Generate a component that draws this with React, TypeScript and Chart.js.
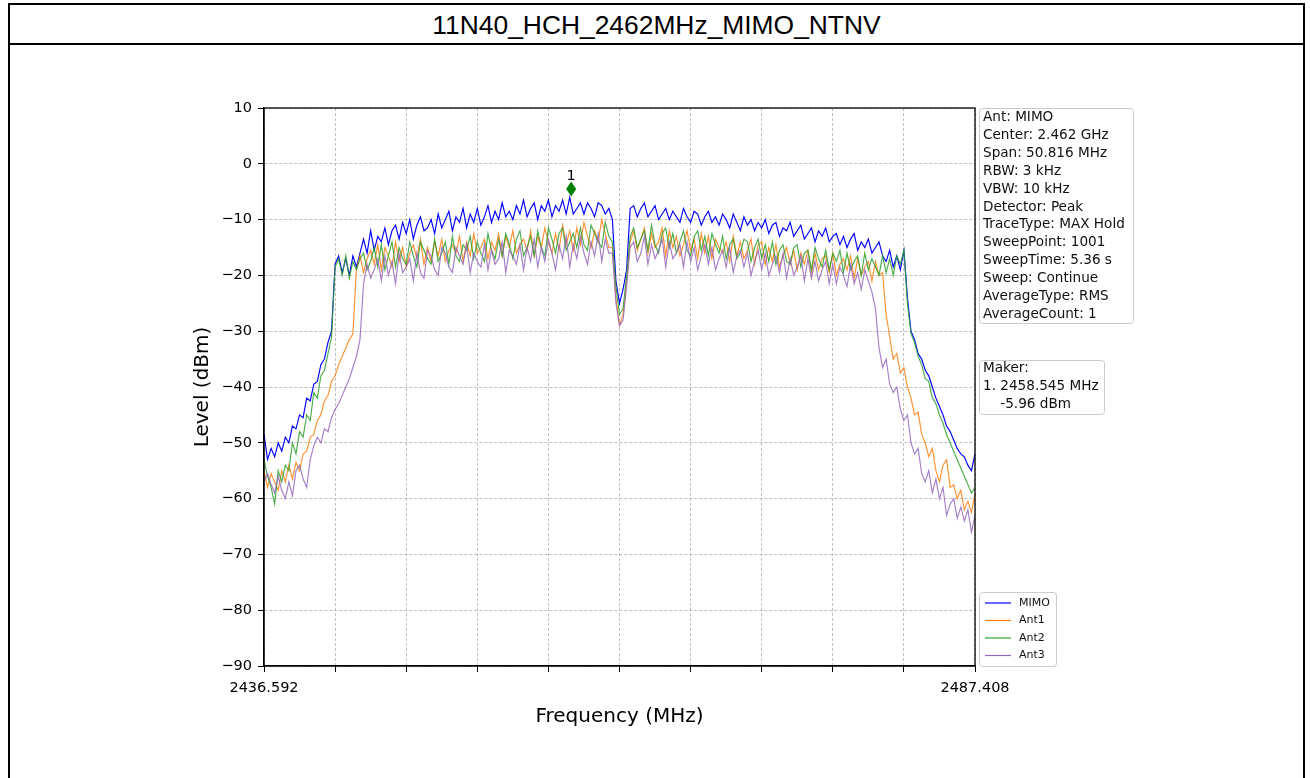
import React, { useEffect, useRef } from 'react';
import { Chart, registerables } from 'chart.js';

Chart.register(...registerables);

const TITLE = '11N40_HCH_2462MHz_MIMO_NTNV';
const START_MHZ = 2436.592;
const STOP_MHZ = 2487.408;
const X_TICK_COUNT = 11;
const X_EDGE_LABELS = ['2436.592', '2487.408'];
const Y_TICKS = [-90, -80, -70, -60, -50, -40, -30, -20, -10, 0, 10];
const X_TITLE = 'Frequency (MHz)';
const Y_TITLE = 'Level (dBm)';

const SERIES_NAMES = ['MIMO', 'Ant1', 'Ant2', 'Ant3'];

const MIMO = [
  -48.5, -53, -51, -52.5, -50, -51.5, -49, -50, -47, -47.5,
  -45, -45.5, -42, -42.5, -39.5, -39, -36, -35, -32, -30,
  -18, -16.5, -19.5, -17, -20, -16.5, -18.5, -16,
  -13.5, -16, -12, -15.5, -13, -14, -11.5, -14.5, -12, -11, -13.5, -10.5,
  -12.5, -10, -13.5, -11, -9.5, -12, -11.5, -10, -12.5, -9,
  -11.5, -10, -8.5, -12, -9.5, -10.5, -8, -11.5, -9, -10.5,
  -8, -11, -9.5, -7.5, -10.5, -8.5, -10, -7, -9.5, -8.5,
  -10, -7.5, -9, -6.5, -9.5, -8, -7, -10, -7.5, -8.5,
  -6.5, -9.5, -7.5, -8.5, -6.5, -9, -6, -9, -8, -7,
  -9, -7, -8, -9.5, -7, -7.5, -9, -8,
  -10, -21, -25, -22.5, -19, -8,
  -7.5, -9.5, -8, -7, -9.5, -8.5,
  -7.5, -10, -9, -8, -10, -8.5, -9.5, -10.5, -8, -9.5,
  -10.5, -8.5, -9, -11, -9.5, -8.5, -10.5, -9.5, -11, -9,
  -10, -11.5, -9, -10.5, -12, -9.5, -11, -10, -12, -10.5,
  -11.5, -10, -12.5, -11, -10.5, -13, -11.5, -12, -10.5, -13,
  -12, -11, -13.5, -12.5, -11.5, -14, -12, -13, -11.5, -14,
  -13, -12.5, -14.5, -13, -15, -13.5, -12.5, -15.5, -14, -15,
  -13.5, -16, -15, -14, -16.5, -17.5, -15.5, -18.5, -16.5, -19,
  -15.5,
  -24, -30, -31.5, -34, -35, -37, -38, -40, -42,
  -43.5, -45, -47, -48, -49.5, -51, -52, -52.5, -54, -55,
  -52,
];

const ANT1 = [
  -55, -58, -55.5, -57, -58.5, -55, -57, -54, -56.5, -53.5,
  -55, -52, -51.5, -49, -48.5, -46, -45, -42.5, -41.5, -39,
  -38, -36, -34.5, -33, -31.5, -30.5,
  -19, -16.5, -19.5, -17, -15.5, -18, -14.5, -19, -15, -16.5,
  -18.5, -14, -17.5, -15, -18.5, -16, -14.5, -17, -13.5, -18,
  -15, -17.5, -14, -16.5, -13.5, -17.5, -15.5, -14.5, -16, -13,
  -17.5, -14, -16.5, -12.5, -16, -15, -13.5, -17, -14, -15.5,
  -12.5, -16.5, -13, -15, -12, -16, -14.5, -13.5, -15.5, -12,
  -16.5, -13, -15, -11.5, -14, -16, -12.5, -15.5, -11, -14.5,
  -12, -15.5, -11.5, -14.5, -10.5, -13, -15, -12, -14, -10, -12.5, -15,
  -15, -24, -29, -27, -21, -14,
  -12, -15.5, -13.5, -11.5, -16, -12.5, -15, -14, -11.5, -16.5,
  -12, -15, -13, -16.5, -14.5, -12, -15.5, -13.5, -17, -12.5,
  -16, -13, -17, -13.5, -15, -16, -14, -17.5, -13, -16.5,
  -14, -17, -15.5, -13.5, -18, -14.5, -14, -18, -15, -17.5,
  -14.5, -18.5, -16.5, -15, -18, -15.5, -19, -16, -18, -15.5,
  -19.5, -16, -19, -17, -16.5, -19.5, -16, -20, -18, -17,
  -19, -16.5, -20.5, -17, -20, -18.5, -17.5, -21, -17.5, -20,
  -19.5, -27, -31, -35, -34, -37.5, -36.5, -40, -42, -45,
  -44.5, -48.5, -50, -52.5, -51, -55, -57, -54, -53, -58,
  -57.5, -60, -58.5, -62, -60.5, -62.5, -59,
];

const ANT2 = [
  -53, -56, -58, -61, -55, -57, -54, -55, -50, -52,
  -48, -49, -45, -46, -41, -42, -38, -37, -34, -31,
  -18.5, -17, -20, -16.5, -20.5, -17.5, -19, -17,
  -16, -19, -17.5, -15, -18.5, -14.5, -19, -16.5, -14, -18.5,
  -15, -17, -18, -14, -16.5, -18.5, -14, -15.5, -17, -18,
  -13.5, -17.5, -16, -14, -18, -13, -16.5, -17.5, -14.5, -15.5,
  -13, -17, -14, -16, -17.5, -12.5, -15.5, -17, -13.5, -16.5,
  -12.5, -14.5, -17, -13.5, -12, -16.5, -15, -13, -16.5, -12,
  -15, -16.5, -11.5, -13.5, -16, -12.5, -11.5, -15.5, -14, -12.5,
  -15, -11.5, -14.5, -15.5, -11, -12.5, -14, -15, -10.5, -13,
  -14, -22, -27, -26, -20, -13,
  -11.5, -15, -13.5, -12, -15.5, -11, -14.5, -16, -12.5, -11.5,
  -15, -12.5, -16, -14, -12, -15.5, -16.5, -13, -12, -15.5,
  -13, -16.5, -12.5, -14.5, -16, -13, -17, -14.5, -13.5, -17,
  -16, -13.5, -14, -17.5, -15, -13.5, -17, -14.5, -17.5, -14,
  -18, -15.5, -14.5, -17.5, -18, -15, -14.5, -18.5, -16, -15.5,
  -19, -15, -17, -18.5, -15.5, -19, -16, -17.5, -15.5, -19.5,
  -16, -19, -17.5, -16.5, -20, -16, -19, -17, -18.5, -20,
  -16.5, -19.5, -17, -20, -16.5, -18, -15.5,
  -25, -30.5, -32, -34.5, -36, -38.5, -39, -42, -43, -45,
  -46.5, -48.5, -50, -51.5, -53, -54.5, -56, -57.5, -59, -58,
];

const ANT3 = [
  -57, -55.5, -57.5, -59, -56, -58.5, -60, -57, -59.5, -55,
  -54, -56.5, -58, -53, -50.5, -49, -50, -47.5, -48, -45.5,
  -44, -43, -41.5, -40, -38.5, -36.5, -34.5, -31.5,
  -21.5, -18, -20.5, -19, -17, -21, -16.5, -20, -17.5, -21.5,
  -16, -19.5, -18.5, -17, -21, -16, -19.5, -20.5, -15.5, -16.5,
  -19, -20, -15, -16, -18.5, -19.5, -15, -16.5, -18, -14.5,
  -19.5, -16, -17.5, -18.5, -14.5, -19, -15.5, -18, -17, -14,
  -19.5, -15.5, -16.5, -18, -14.5, -19, -15, -17.5, -13.5, -18.5,
  -15, -17.5, -13.5, -16, -19, -14.5, -17, -13, -18.5, -14.5,
  -17, -13, -16, -18, -14, -16.5, -12.5, -17.5, -13.5, -16,
  -16, -25, -29, -28, -22, -15,
  -14, -17.5, -16, -13, -18, -14.5, -17, -15.5, -13.5, -18.5,
  -14, -17, -16, -14.5, -18.5, -14, -17.5, -15, -19, -16.5,
  -14.5, -18, -15, -19, -17, -15.5, -18.5, -15, -19.5, -16.5,
  -15.5, -18.5, -16, -20, -17.5, -15.5, -19, -16, -20, -18,
  -16.5, -19.5, -16, -20.5, -17, -20, -18.5, -16.5, -21, -17,
  -20.5, -17.5, -21, -19, -17.5, -21.5, -18, -21.5, -18.5, -20,
  -22, -18, -21.5, -19.5, -22.5, -19, -21, -23,
  -26, -33, -36.5, -35, -39.5, -41, -40, -44, -46, -45,
  -50, -52, -51, -55.5, -57, -55, -59, -56.5, -60, -58,
  -63, -61, -60, -63.5, -61.5, -64, -62, -66, -63,
];

const SERIES_VALUES = [MIMO, ANT1, ANT2, ANT3];
const SERIES_COLORS = ['rgba(0,0,255,1)', 'rgba(255,127,14,0.85)', 'rgba(44,160,44,0.85)', 'rgba(148,103,189,0.85)'];
const LEGEND_COLORS = ['#0000ff', '#ff7f0e', '#2ca02c', '#9467bd'];

const INFO_LINES = [
  'Ant: MIMO',
  'Center: 2.462 GHz',
  'Span: 50.816 MHz',
  'RBW: 3 kHz',
  'VBW: 10 kHz',
  'Detector: Peak',
  'TraceType: MAX Hold',
  'SweepPoint: 1001',
  'SweepTime: 5.36 s',
  'Sweep: Continue',
  'AverageType: RMS',
  'AverageCount: 1',
];
const MARKER_LINES = ['Maker:', '1. 2458.545 MHz', '    -5.96 dBm'];
const MARKER_FREQ = 2458.545;
const MARKER_LEVEL = -5.96;
const MARKER_LABEL = '1';

const FONT = '"DejaVu Sans", sans-serif';

function roundRect(ctx: CanvasRenderingContext2D, x: number, y: number, w: number, h: number, r: number) {
  ctx.beginPath();
  ctx.moveTo(x + r, y);
  ctx.lineTo(x + w - r, y);
  ctx.quadraticCurveTo(x + w, y, x + w, y + r);
  ctx.lineTo(x + w, y + h - r);
  ctx.quadraticCurveTo(x + w, y + h, x + w - r, y + h);
  ctx.lineTo(x + r, y + h);
  ctx.quadraticCurveTo(x, y + h, x, y + h - r);
  ctx.lineTo(x, y + r);
  ctx.quadraticCurveTo(x, y, x + r, y);
  ctx.closePath();
}

const overlayPlugin = {
  id: 'overlay',
  afterDraw(chart: any) {
    const ctx: CanvasRenderingContext2D = chart.ctx;
    const { left, right, top, bottom } = chart.chartArea;
    const xs = chart.scales.x;
    const ys = chart.scales.y;
    ctx.save();
    ctx.strokeStyle = '#000';
    ctx.lineWidth = 1.3;
    ctx.strokeRect(left, top, right - left, bottom - top);

    const mx = xs.getPixelForValue(MARKER_FREQ);
    const my = ys.getPixelForValue(MARKER_LEVEL) - 8;
    ctx.fillStyle = '#008000';
    ctx.beginPath();
    ctx.moveTo(mx, my - 7.5);
    ctx.lineTo(mx + 5, my);
    ctx.lineTo(mx, my + 7.5);
    ctx.lineTo(mx - 5, my);
    ctx.closePath();
    ctx.fill();
    ctx.fillStyle = '#000';
    ctx.font = `14.5px ${FONT}`;
    ctx.textAlign = 'center';
    ctx.textBaseline = 'alphabetic';
    ctx.fillText(MARKER_LABEL, mx, my - 9);

    const bx = right + 4;
    ctx.font = `13.6px ${FONT}`;
    ctx.textAlign = 'left';
    ctx.textBaseline = 'middle';
    const drawBox = (x: number, y: number, w: number, h: number) => {
      roundRect(ctx, x + 0.5, y + 0.5, w, h, 3);
      ctx.fillStyle = 'rgba(255,255,255,0.8)';
      ctx.fill();
      ctx.strokeStyle = '#cccccc';
      ctx.lineWidth = 1;
      ctx.stroke();
    };
    drawBox(bx, top, 154, 215);
    ctx.fillStyle = '#111';
    INFO_LINES.forEach((t, i) => ctx.fillText(t, bx + 4, top + 9.5 + i * 17.9));

    const my0 = top + 252;
    drawBox(bx, my0, 125, 54);
    ctx.fillStyle = '#111';
    MARKER_LINES.forEach((t, i) => ctx.fillText(t, bx + 4, my0 + 8 + i * 18));

    const ly = bottom - 74;
    drawBox(bx, ly, 77, 74);
    ctx.font = `11px ${FONT}`;
    SERIES_NAMES.forEach((name, i) => {
      const yy = ly + 11 + i * 17.5;
      ctx.strokeStyle = LEGEND_COLORS[i];
      ctx.lineWidth = 1.2;
      ctx.beginPath();
      ctx.moveTo(bx + 6, yy);
      ctx.lineTo(bx + 32, yy);
      ctx.stroke();
      ctx.fillStyle = '#111';
      ctx.fillText(name, bx + 40, yy);
    });
    ctx.restore();
  },
};

export default function App() {
  const ref = useRef<HTMLCanvasElement | null>(null);
  useEffect(() => {
    document.body.style.overflow = 'hidden';
    const canvas = ref.current;
    if (!canvas) return;
    const n = MIMO.length;
    const freqs = Array.from({ length: n }, (_, i) => START_MHZ + (i * (STOP_MHZ - START_MHZ)) / (n - 1));
    const xTicks = Array.from({ length: X_TICK_COUNT }, (_, k) => START_MHZ + (k * (STOP_MHZ - START_MHZ)) / (X_TICK_COUNT - 1));
    const orders = [4, 3, 2, 1];
    const chart = new Chart(canvas, {
      type: 'line',
      data: {
        datasets: SERIES_VALUES.map((vals, si) => ({
          label: SERIES_NAMES[si],
          data: vals.map((v, i) => ({ x: freqs[i], y: v })),
          borderColor: SERIES_COLORS[si],
          borderWidth: 1.15,
          pointRadius: 0,
          tension: 0,
          fill: false,
          order: orders[si],
        })),
      },
      options: {
        animation: false,
        responsive: false,
        events: [],
        layout: { padding: { left: 184, right: 335, top: 108, bottom: 42 } },
        plugins: { legend: { display: false }, tooltip: { enabled: false }, title: { display: false } },
        scales: {
          x: {
            type: 'linear',
            min: START_MHZ,
            max: STOP_MHZ,
            afterBuildTicks: (scale: any) => {
              scale.ticks = xTicks.map((v) => ({ value: v }));
            },
            afterFit: (scale: any) => {
              scale.height = 70;
            },
            ticks: {
              autoSkip: false,
              maxRotation: 0,
              padding: 8,
              color: '#000',
              font: { family: FONT, size: 14.5 },
              callback: (_v: any, idx: number) =>
                idx === 0 ? X_EDGE_LABELS[0] : idx === X_TICK_COUNT - 1 ? X_EDGE_LABELS[1] : '',
            },
            grid: {
              color: '#b0b0b0',
              lineWidth: 0.8,
              drawTicks: true,
              tickLength: 6,
              tickColor: '#000',
              tickWidth: 1,
              tickBorderDash: [],
            },
            border: { display: true, color: '#000', width: 1.3, dash: [3, 2] },
            title: { display: true, text: X_TITLE, color: '#000', font: { family: FONT, size: 20 }, padding: { top: 0, bottom: 7 } },
          },
          y: {
            type: 'linear',
            min: -90,
            max: 10,
            afterBuildTicks: (scale: any) => {
              scale.ticks = Y_TICKS.map((v) => ({ value: v }));
            },
            afterFit: (scale: any) => {
              scale.width = 80;
            },
            ticks: {
              padding: 6,
              color: '#000',
              font: { family: FONT, size: 14.5 },
              callback: (v: any) => (Number(v) < 0 ? '\u2212' + Math.abs(Number(v)) : String(v)),
            },
            grid: {
              color: '#b0b0b0',
              lineWidth: 0.8,
              drawTicks: true,
              tickLength: 6,
              tickColor: '#000',
              tickWidth: 1,
              tickBorderDash: [],
            },
            border: { display: true, color: '#000', width: 1.3, dash: [3, 2] },
            title: { display: true, text: Y_TITLE, color: '#000', font: { family: FONT, size: 20 }, padding: { top: 7, bottom: 0 } },
          },
        },
      },
      plugins: [overlayPlugin],
    } as any);
    return () => chart.destroy();
  }, []);

  return (
    <>
      <div
        style={{
          position: 'absolute',
          left: 8,
          top: 3,
          width: 1297,
          height: 900,
          border: '2px solid #000',
          boxSizing: 'border-box',
          background: '#fff',
        }}
      >
        <div
          style={{
            height: 40,
            borderBottom: '2px solid #000',
            boxSizing: 'border-box',
            textAlign: 'center',
            fontFamily: '"Liberation Sans", Arial, sans-serif',
            fontSize: 26.4,
            lineHeight: '40px',
            color: '#000',
          }}
        >
          {TITLE}
        </div>
      </div>
      <canvas
        ref={ref}
        width={1310}
        height={778}
        style={{ position: 'fixed', left: 0, top: 0, width: 1310, height: 778, zIndex: 2 }}
      />
    </>
  );
}
